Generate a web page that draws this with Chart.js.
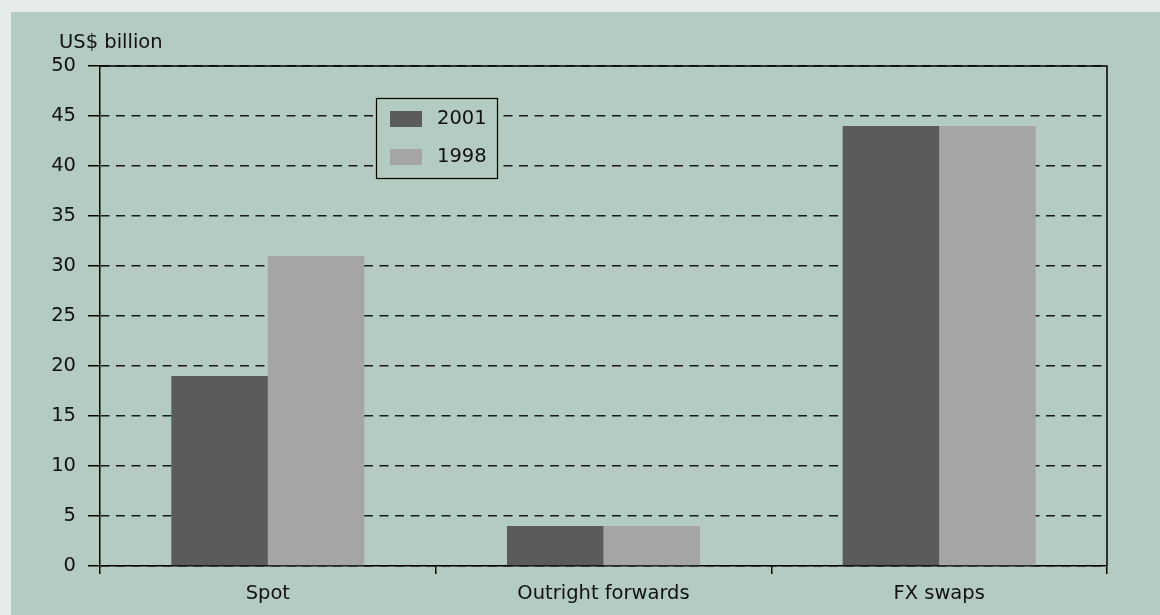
<!DOCTYPE html>
<html>
<head>
<meta charset="utf-8">
<script src="https://cdn.jsdelivr.net/npm/chart.js@4/dist/chart.umd.min.js"></script>
<style>
  html, body { margin: 0; padding: 0; background: #e6ecea; }
  #panel { position: absolute; left: 11px; top: 12px; width: 1149px; height: 603px; background: #b3cbc1; }
  #wrap { position: absolute; left: 0; top: 0; width: 1160px; height: 615px; }
</style>
</head>
<body>
<div id="panel"></div>
<div id="wrap"><canvas id="c" width="1160" height="615"></canvas></div>
<script>
const categories = ["Spot", "Outright forwards", "FX swaps"];
const values2001 = [19, 4, 44];
const values1998 = [31, 4, 44];
const seriesLabels = ["2001", "1998"];
const yTicks = [0, 5, 10, 15, 20, 25, 30, 35, 40, 45, 50];
const yTitle = "US$ billion";

const FONT = "'DejaVu Sans', 'Open Sans', sans-serif";
const FSIZE = 19.5;
const colors = ["#5b5b5b", "#a5a5a5"];

const extras = {
  id: 'extras',
  afterDraw(chart) {
    const ctx = chart.ctx;
    const a = chart.chartArea;
    ctx.save();
    // frame top and right
    ctx.strokeStyle = "#000";
    ctx.lineWidth = 1.5;
    ctx.beginPath();
    ctx.moveTo(a.left, a.top);
    ctx.lineTo(a.right, a.top);
    ctx.lineTo(a.right, a.bottom);
    ctx.stroke();
    // axis title
    ctx.fillStyle = "#111";
    ctx.font = FSIZE + "px " + FONT;
    ctx.textAlign = "left";
    ctx.textBaseline = "alphabetic";
    ctx.fillText(yTitle, 59, 48);
    // legend box
    const lx = 376, ly = 98, lw = 121, lh = 80;
    ctx.fillStyle = "#b3cbc1";
    ctx.fillRect(lx, ly, lw, lh);
    ctx.lineWidth = 1.2;
    ctx.strokeStyle = "#000";
    ctx.strokeRect(lx + 0.5, ly + 0.5, lw, lh);
    chart.data.datasets.forEach((ds, i) => {
      const y = 111 + i * 38;
      ctx.fillStyle = ds.backgroundColor;
      ctx.fillRect(390, y, 32, 16);
      ctx.fillStyle = "#111";
      ctx.font = FSIZE + "px " + FONT;
      ctx.textBaseline = "middle";
      ctx.fillText(ds.label, 437, y + 8);
    });
    ctx.restore();
  }
};

new Chart(document.getElementById('c'), {
  type: 'bar',
  data: {
    labels: categories,
    datasets: [
      { label: seriesLabels[0], data: values2001, backgroundColor: colors[0] },
      { label: seriesLabels[1], data: values1998, backgroundColor: colors[1] }
    ]
  },
  options: {
    responsive: false,
    animation: false,
    devicePixelRatio: 1,
    layout: { padding: { left: 0, right: 53, top: 66, bottom: 0 } },
    plugins: { legend: { display: false }, tooltip: { enabled: false } },
    datasets: { bar: { categoryPercentage: 0.575, barPercentage: 1.0 } },
    scales: {
      x: {
        offset: true,
        grid: { offset: true, drawOnChartArea: false, drawTicks: true, tickLength: 8, color: "#000", lineWidth: 1.5 },
        border: { display: true, color: "#000", width: 1.5 },
        ticks: { color: "#111", font: { family: FONT, size: FSIZE }, padding: 8 },
        afterFit(s) { s.height = 49; }
      },
      y: {
        min: 0, max: 50,
        afterBuildTicks(s) { s.ticks = yTicks.map(v => ({ value: v })); },
        grid: {
          color: "#1a1a1a", lineWidth: 1.5,
          tickLength: 12, tickBorderDash: [], tickColor: "#000",
          drawTicks: true
        },
        border: { display: true, color: "#000", width: 1.5, dash: [9, 6.5] },
        ticks: { color: "#111", font: { family: FONT, size: FSIZE }, padding: 12 },
        afterFit(s) { s.width = 100; }
      }
    }
  },
  plugins: [extras]
});
</script>
</body>
</html>
